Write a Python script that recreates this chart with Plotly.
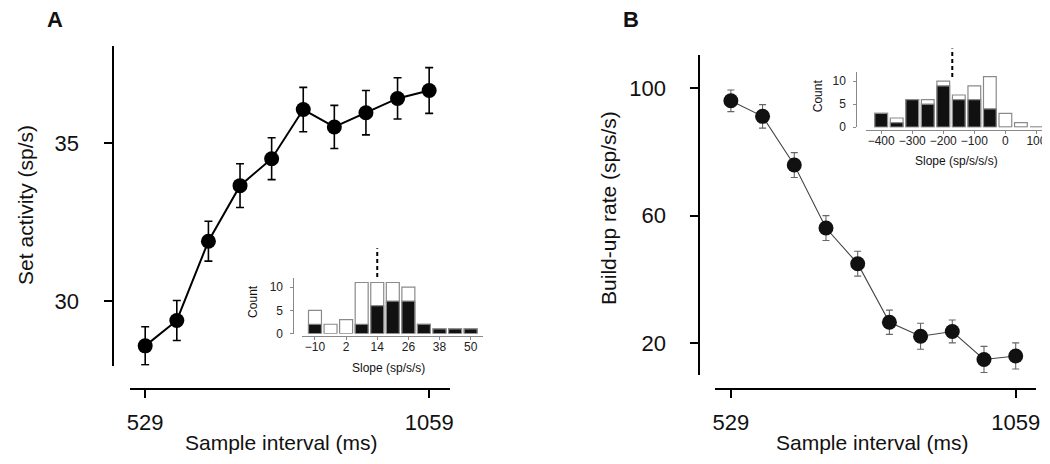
import plotly.graph_objects as go

W, H = 1050, 464

# ---- data ----
intervals = [529, 588, 647, 706, 765, 824, 882, 941, 1000, 1059]
set_activity = [28.6, 29.4, 31.9, 33.65, 34.5, 36.05, 35.5, 35.95, 36.4, 36.65]
set_err = [0.6, 0.63, 0.63, 0.69, 0.66, 0.7, 0.68, 0.7, 0.65, 0.72]
buildup = [96.1, 91.2, 75.9, 56.1, 44.9, 26.5, 22.1, 23.6, 14.8, 15.9]
buildup_err = [3.4, 3.7, 3.9, 3.9, 3.9, 3.8, 4.1, 3.6, 4.1, 4.1]
x_ticks = [529, 1059]
yA_ticks = [30, 35]
yB_ticks = [20, 60, 100]

slopeA_bins = [-10, -4, 2, 8, 14, 20, 26, 32, 38, 44, 50]
slopeA_all = [5, 2, 3, 11, 11, 11, 10, 2, 1, 1, 1]
slopeA_sig = [2, 0, 0, 2, 6, 7, 7, 2, 1, 1, 1]
slopeA_median = 14
slopeA_ticks = [-10, 2, 14, 26, 38, 50]

slopeB_bins = [-400, -350, -300, -250, -200, -150, -100, -50, 0, 50, 100]
slopeB_all = [3, 2, 6, 6, 10, 7, 9, 11, 3, 1, 0]
slopeB_sig = [3, 1, 6, 5, 9, 6, 6, 4, 0, 0, 0]
slopeB_median = -171
slopeB_ticks = [-400, -300, -200, -100, 0, 100]
count_ticks = [0, 5, 10]


def fx(px):
    return px / W


def fy(py):
    return 1 - py / H


def lab(v):
    return str(v).replace("-", "\u2212")


FONT = "Liberation Sans, Arial, Helvetica, sans-serif"

fig = go.Figure()

# Panel A main
fig.add_trace(go.Scatter(
    x=intervals, y=set_activity, mode="lines+markers",
    line=dict(color="black", width=2),
    marker=dict(color="black", size=15),
    error_y=dict(type="data", array=set_err, color="black", thickness=1.6, width=4),
    xaxis="x", yaxis="y", cliponaxis=False, showlegend=False))

# Panel B main
fig.add_trace(go.Scatter(
    x=intervals, y=buildup, mode="lines+markers",
    line=dict(color="#444444", width=1.1),
    marker=dict(color="#111111", size=15),
    error_y=dict(type="data", array=buildup_err, color="#666666", thickness=1.1, width=3.5),
    xaxis="x2", yaxis="y2", cliponaxis=False, showlegend=False))

# Inset A histogram
fig.add_trace(go.Bar(x=slopeA_bins, y=slopeA_all, width=5,
                     marker=dict(color="white", line=dict(color="#8a8a8a", width=1.2)),
                     xaxis="x3", yaxis="y3", showlegend=False))
fig.add_trace(go.Bar(x=slopeA_bins, y=slopeA_sig, width=5,
                     marker=dict(color="#111111", line=dict(color="#8a8a8a", width=1.2)),
                     xaxis="x3", yaxis="y3", showlegend=False))

# Inset B histogram
fig.add_trace(go.Bar(x=slopeB_bins, y=slopeB_all, width=41,
                     marker=dict(color="white", line=dict(color="#8a8a8a", width=1.2)),
                     xaxis="x4", yaxis="y4", showlegend=False))
fig.add_trace(go.Bar(x=slopeB_bins, y=slopeB_sig, width=41,
                     marker=dict(color="#111111", line=dict(color="#8a8a8a", width=1.2)),
                     xaxis="x4", yaxis="y4", showlegend=False))

main_axis = dict(showgrid=False, zeroline=False, showline=True, linecolor="black",
                 linewidth=2, ticks="outside", ticklen=8, tickwidth=1.6,
                 tickcolor="black", tickfont=dict(family=FONT, size=22, color="#111"))
inset_axis = dict(showgrid=False, zeroline=False, showline=True, linecolor="#888",
                  linewidth=1, ticks="outside", ticklen=3, tickwidth=1,
                  tickcolor="#888", tickfont=dict(family=FONT, size=12, color="#222"))

fig.update_layout(
    width=W, height=H, margin=dict(l=0, r=0, t=0, b=0),
    paper_bgcolor="white", plot_bgcolor="rgba(0,0,0,0)",
    barmode="overlay",
    xaxis=dict(main_axis, domain=[fx(120), fx(442)], range=[501, 1098],
               tickvals=x_ticks, ticktext=[str(v) for v in x_ticks],
               anchor="free", position=fy(387), ticklabelstandoff=5),
    yaxis=dict(main_axis, domain=[fy(363), fy(39)], range=[27.98, 38.04],
               tickvals=yA_ticks, anchor="free", position=fx(103), ticklabelstandoff=21),
    xaxis2=dict(main_axis, domain=[fx(709), fx(1032)], range=[500, 1097],
                tickvals=x_ticks, ticktext=[str(v) for v in x_ticks],
                anchor="free", position=fy(387), ticklabelstandoff=5),
    yaxis2=dict(main_axis, domain=[fy(373), fy(48)], range=[9.8, 110.4],
                tickvals=yB_ticks, anchor="free", position=fx(693), ticklabelstandoff=20),
    xaxis3=dict(inset_axis, domain=[fx(292.7), fx(475)], range=[-15.1, 54.7],
                tickvals=slopeA_ticks, ticktext=[lab(v) for v in slopeA_ticks],
                anchor="free", position=fy(333.5), ticklabelstandoff=-4),
    yaxis3=dict(inset_axis, domain=[fy(330.5), fy(274)], range=[0, 12],
                tickvals=count_ticks, anchor="free", position=fx(284.3), ticklabelstandoff=5),
    xaxis4=dict(inset_axis, domain=[fx(861), fx(1046.7)], range=[-448, 146],
                tickvals=slopeB_ticks, ticktext=[lab(v) for v in slopeB_ticks],
                anchor="free", position=fy(124), ticklabelstandoff=-4),
    yaxis4=dict(inset_axis, domain=[fy(121), fy(65)], range=[0, 12],
                tickvals=count_ticks, anchor="free", position=fx(851), ticklabelstandoff=5),
)

# median dashed lines
fig.add_shape(type="line", xref="x3", yref="paper", x0=slopeA_median, x1=slopeA_median,
              y0=fy(273), y1=fy(244), line=dict(color="black", width=2, dash="4px,3px"))
fig.add_shape(type="line", xref="x4", yref="paper", x0=slopeB_median, x1=slopeB_median,
              y0=fy(70), y1=fy(41), line=dict(color="black", width=2, dash="4px,3px"))

ann = []


def text(s, x, y, size, rot=0, bold=False, color="#111"):
    ann.append(dict(text=f"<b>{s}</b>" if bold else s, x=fx(x), y=fy(y), xref="paper",
                    yref="paper", showarrow=False, textangle=rot, xanchor="center",
                    yanchor="middle", font=dict(family=FONT, size=size, color=color)))


text("A", 44, 12, 22, bold=True)
text("B", 624, 12, 22, bold=True)
text("Set activity (sp/s)", 15, 200, 21, rot=-90)
text("Sample interval (ms)", 272, 441, 21)
text("Build-up rate (sp/s/s)", 602, 203, 21, rot=-90)
text("Sample interval (ms)", 867, 441, 21)
text("Count", 243, 298, 12, rot=-90)
text("Slope (sp/s/s)", 380, 366, 12)
text("Count", 812, 89, 12, rot=-90)
text("Slope (sp/s/s/s)", 952, 155, 12)
fig.update_layout(annotations=ann)

fig.write_html("out.html")
